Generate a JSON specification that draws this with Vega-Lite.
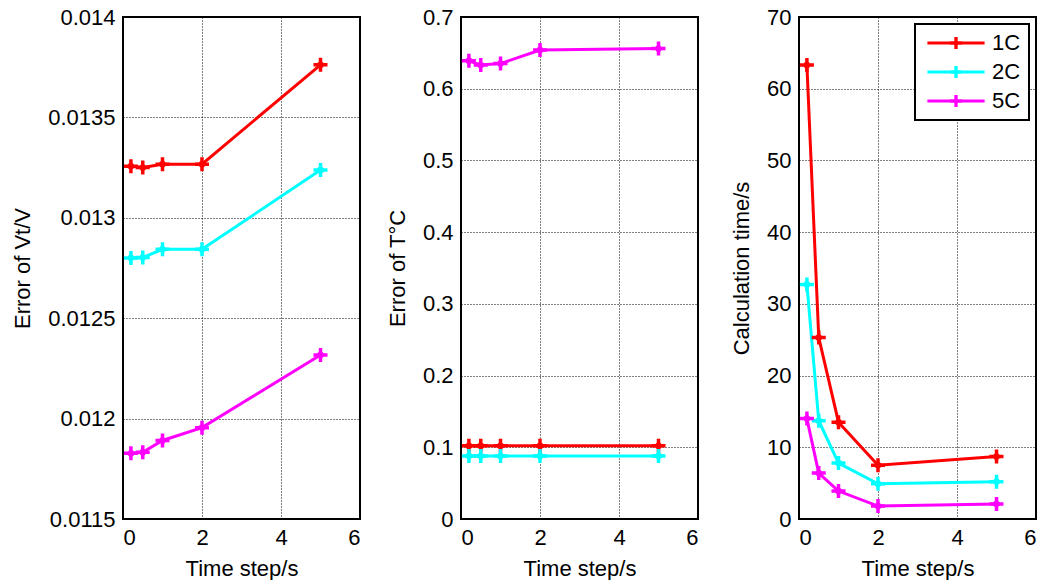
{
  "$schema": "https://vega.github.io/schema/vega-lite/v6.json",
  "background": "white",
  "padding": {"left": 10, "top": 5, "right": 0, "bottom": 0},
  "datasets": {
    "runs": [
      {"panel": "voltage", "rate": "1C", "step": 0.2, "value": 0.013257},
      {"panel": "voltage", "rate": "1C", "step": 0.5, "value": 0.013250},
      {"panel": "voltage", "rate": "1C", "step": 1, "value": 0.013267},
      {"panel": "voltage", "rate": "1C", "step": 2, "value": 0.013267},
      {"panel": "voltage", "rate": "1C", "step": 5, "value": 0.013762},
      {"panel": "voltage", "rate": "2C", "step": 0.2, "value": 0.012800},
      {"panel": "voltage", "rate": "2C", "step": 0.5, "value": 0.012802},
      {"panel": "voltage", "rate": "2C", "step": 1, "value": 0.012843},
      {"panel": "voltage", "rate": "2C", "step": 2, "value": 0.012843},
      {"panel": "voltage", "rate": "2C", "step": 5, "value": 0.013238},
      {"panel": "voltage", "rate": "5C", "step": 0.2, "value": 0.011827},
      {"panel": "voltage", "rate": "5C", "step": 0.5, "value": 0.011832},
      {"panel": "voltage", "rate": "5C", "step": 1, "value": 0.011891},
      {"panel": "voltage", "rate": "5C", "step": 2, "value": 0.011955},
      {"panel": "voltage", "rate": "5C", "step": 5, "value": 0.012317},
      {"panel": "temperature", "rate": "1C", "step": 0.2, "value": 0.102},
      {"panel": "temperature", "rate": "1C", "step": 0.5, "value": 0.102},
      {"panel": "temperature", "rate": "1C", "step": 1, "value": 0.102},
      {"panel": "temperature", "rate": "1C", "step": 2, "value": 0.102},
      {"panel": "temperature", "rate": "1C", "step": 5, "value": 0.102},
      {"panel": "temperature", "rate": "2C", "step": 0.2, "value": 0.088},
      {"panel": "temperature", "rate": "2C", "step": 0.5, "value": 0.088},
      {"panel": "temperature", "rate": "2C", "step": 1, "value": 0.088},
      {"panel": "temperature", "rate": "2C", "step": 2, "value": 0.088},
      {"panel": "temperature", "rate": "2C", "step": 5, "value": 0.088},
      {"panel": "temperature", "rate": "5C", "step": 0.2, "value": 0.639},
      {"panel": "temperature", "rate": "5C", "step": 0.5, "value": 0.633},
      {"panel": "temperature", "rate": "5C", "step": 1, "value": 0.635},
      {"panel": "temperature", "rate": "5C", "step": 2, "value": 0.654},
      {"panel": "temperature", "rate": "5C", "step": 5, "value": 0.656},
      {"panel": "time", "rate": "1C", "step": 0.2, "value": 63.3},
      {"panel": "time", "rate": "1C", "step": 0.5, "value": 25.3},
      {"panel": "time", "rate": "1C", "step": 1, "value": 13.5},
      {"panel": "time", "rate": "1C", "step": 2, "value": 7.5},
      {"panel": "time", "rate": "1C", "step": 5, "value": 8.7},
      {"panel": "time", "rate": "2C", "step": 0.2, "value": 32.7},
      {"panel": "time", "rate": "2C", "step": 0.5, "value": 13.7},
      {"panel": "time", "rate": "2C", "step": 1, "value": 7.8},
      {"panel": "time", "rate": "2C", "step": 2, "value": 4.9},
      {"panel": "time", "rate": "2C", "step": 5, "value": 5.2},
      {"panel": "time", "rate": "5C", "step": 0.2, "value": 14.0},
      {"panel": "time", "rate": "5C", "step": 0.5, "value": 6.4},
      {"panel": "time", "rate": "5C", "step": 1, "value": 3.9},
      {"panel": "time", "rate": "5C", "step": 2, "value": 1.8},
      {"panel": "time", "rate": "5C", "step": 5, "value": 2.1}
    ]
  },
  "config": {
    "font": "Liberation Sans",
    "view": {"stroke": "black", "strokeWidth": 2},
    "axis": {
      "labelFont": "Liberation Sans",
      "labelFontSize": 22,
      "labelColor": "black",
      "labelPadding": 8,
      "titleFont": "Liberation Sans",
      "titleFontSize": 22,
      "titleFontWeight": "normal",
      "titleColor": "black",
      "domain": false,
      "ticks": false,
      "grid": true,
      "gridColor": "black",
      "gridDash": [1, 2],
      "gridOpacity": 1,
      "gridWidth": 1,
      "format": "~g"
    },
    "axisY": {"titlePadding": 13},
    "axisX": {"titlePadding": 10},
    "legend": {
      "labelFont": "Liberation Sans",
      "labelFontSize": 22,
      "labelColor": "black",
      "strokeColor": "black",
      "strokeWidth": 2,
      "fillColor": "white",
      "padding": 8,
      "rowPadding": 7,
      "symbolOffset": 22,
      "labelOffset": 25,
      "symbolStrokeWidth": 0
    }
  },
  "bounds": "flush",
  "spacing": 101,
  "resolve": {"legend": {"color": "independent"}, "scale": {"y": "independent"}},
  "hconcat": [
    {
      "width": 237,
      "height": 502,
      "data": {"name": "runs"},
      "transform": [{"filter": "datum.panel == 'voltage'"}],
      "encoding": {
        "x": {"field": "step", "type": "quantitative", "scale": {"domain": [0, 6], "nice": false}, "axis": {"values": [0, 2, 4, 6], "title": "Time step/s"}},
        "y": {"field": "value", "type": "quantitative", "scale": {"domain": [0.0115, 0.014], "nice": false, "zero": false}, "axis": {"values": [0.0115, 0.012, 0.0125, 0.013, 0.0135, 0.014], "title": "Error of Vt/V"}},
        "color": {"field": "rate", "type": "nominal", "scale": {"domain": ["1C", "2C", "5C"], "range": ["#ff0000", "#00ffff", "#ff00ff"]}, "legend": null}
      },
      "layer": [
        {"mark": {"type": "line", "strokeWidth": 3}},
        {"mark": {"type": "point", "filled": true, "opacity": 1, "size": 196, "shape": "M-1,-0.25H1V0.25H-1Z M-0.25,-1H0.25V1H-0.25Z M-0.7,0L0,-0.7L0.7,0L0,0.7Z"}}
      ]
    },
    {
      "width": 237,
      "height": 502,
      "data": {"name": "runs"},
      "transform": [{"filter": "datum.panel == 'temperature'"}],
      "encoding": {
        "x": {"field": "step", "type": "quantitative", "scale": {"domain": [0, 6], "nice": false}, "axis": {"values": [0, 2, 4, 6], "title": "Time step/s"}},
        "y": {"field": "value", "type": "quantitative", "scale": {"domain": [0, 0.7], "nice": false}, "axis": {"values": [0, 0.1, 0.2, 0.3, 0.4, 0.5, 0.6, 0.7], "title": "Error of T°C"}},
        "color": {"field": "rate", "type": "nominal", "scale": {"domain": ["1C", "2C", "5C"], "range": ["#ff0000", "#00ffff", "#ff00ff"]}, "legend": null}
      },
      "layer": [
        {"mark": {"type": "line", "strokeWidth": 3}},
        {"mark": {"type": "point", "filled": true, "opacity": 1, "size": 196, "shape": "M-1,-0.25H1V0.25H-1Z M-0.25,-1H0.25V1H-0.25Z M-0.7,0L0,-0.7L0.7,0L0,0.7Z"}}
      ]
    },
    {
      "width": 237,
      "height": 502,
      "data": {"name": "runs"},
      "transform": [{"filter": "datum.panel == 'time'"}],
      "encoding": {
        "x": {"field": "step", "type": "quantitative", "scale": {"domain": [0, 6], "nice": false}, "axis": {"values": [0, 2, 4, 6], "title": "Time step/s"}},
        "y": {"field": "value", "type": "quantitative", "scale": {"domain": [0, 70], "nice": false}, "axis": {"values": [0, 10, 20, 30, 40, 50, 60, 70], "format": "d", "title": "Calculation time/s"}},
        "color": {
          "field": "rate", "type": "nominal",
          "scale": {"domain": ["1C", "2C", "5C"], "range": ["#ff0000", "#00ffff", "#ff00ff"]},
          "legend": {
            "title": null,
            "orient": "top-right",
            "offset": 7,
            "symbolSize": 484,
            "symbolType": "M-2.6,-0.13H2.6V0.13H-2.6Z M-0.55,-0.15H0.55V0.15H-0.55Z M-0.15,-0.55H0.15V0.55H-0.15Z M-0.35,0L0,-0.35L0.35,0L0,0.35Z"
          }
        }
      },
      "layer": [
        {"mark": {"type": "line", "strokeWidth": 3}},
        {"mark": {"type": "point", "filled": true, "opacity": 1, "size": 196, "shape": "M-1,-0.25H1V0.25H-1Z M-0.25,-1H0.25V1H-0.25Z M-0.7,0L0,-0.7L0.7,0L0,0.7Z"}}
      ]
    }
  ]
}
